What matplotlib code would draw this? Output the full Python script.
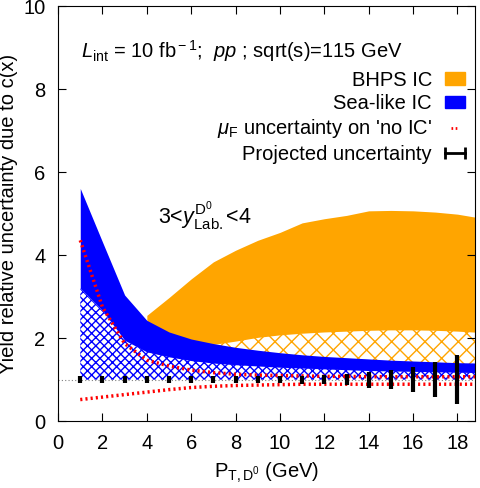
import matplotlib
matplotlib.use("Agg")
import matplotlib.pyplot as plt
from matplotlib.patches import Patch
from matplotlib.lines import Line2D
from matplotlib.legend_handler import HandlerLine2D

plt.rcParams['font.family'] = ['Liberation Sans', 'DejaVu Sans']
plt.rcParams['mathtext.fontset'] = 'custom'
plt.rcParams['mathtext.rm'] = 'Liberation Sans'
plt.rcParams['mathtext.it'] = 'Liberation Sans:italic'
plt.rcParams['mathtext.bf'] = 'Liberation Sans:bold'
plt.rcParams['hatch.linewidth'] = 1.0

# data
pt = [1, 2, 3, 4, 5, 6, 7, 8, 9, 10, 11, 12, 13, 14, 15, 16, 17, 18, 19]
sea_hi = [5.61, 4.32, 3.04, 2.43, 2.15, 1.98, 1.87, 1.78, 1.71, 1.65,
          1.60, 1.56, 1.53, 1.50, 1.47, 1.45, 1.43, 1.41, 1.40]
sea_lo = [3.20, 2.67, 1.95, 1.67, 1.55, 1.46, 1.40, 1.36, 1.33, 1.30,
          1.28, 1.26, 1.24, 1.22, 1.21, 1.20, 1.19, 1.18, 1.17]

pt_b = [4, 5, 6, 7, 8, 9, 10, 11, 12, 13, 14, 15, 16, 17, 18, 19]
bhps_hi = [2.55, 2.98, 3.43, 3.84, 4.12, 4.36, 4.55, 4.78, 4.88, 4.96,
           5.07, 5.08, 5.07, 5.04, 4.99, 4.90]
bhps_lo = [1.50, 1.65, 1.76, 1.85, 1.93, 2.02, 2.08, 2.12, 2.15, 2.17,
           2.19, 2.20, 2.20, 2.19, 2.17, 2.14]

muf_hi = [4.36, 2.75, 1.87, 1.47, 1.33, 1.23, 1.17, 1.13, 1.11, 1.10,
          1.09, 1.08, 1.08, 1.07, 1.07, 1.07, 1.07, 1.07, 1.07]
muf_lo = [0.52, 0.58, 0.64, 0.70, 0.76, 0.81, 0.84, 0.86, 0.87, 0.88,
          0.89, 0.89, 0.89, 0.89, 0.89, 0.89, 0.89, 0.89, 0.89]

pt_err = [1, 2, 3, 4, 5, 6, 7, 8, 9, 10, 11, 12, 13, 14, 15, 16, 17, 18]
err = [0.08, 0.08, 0.08, 0.08, 0.08, 0.08, 0.08, 0.08, 0.08, 0.09,
       0.10, 0.11, 0.14, 0.19, 0.23, 0.30, 0.42, 0.59]

orange = '#ffa500'
blue = '#0000ff'
fs = 14.5

fig = plt.figure(figsize=(4.8, 4.88), dpi=100)
ax = fig.add_axes([0.121, 0.137, 0.869, 0.850])

# BHPS band (behind)
ax.fill_between(pt_b, 1.0, bhps_lo, facecolor='white', edgecolor=orange,
                hatch='xx', linewidth=0)
ax.fill_between(pt_b, bhps_lo, bhps_hi, color=orange, linewidth=0)

# sea-like band
ax.fill_between(pt, 1.0, sea_lo, facecolor='white', edgecolor=blue,
                hatch='xxxx', linewidth=0)
ax.fill_between(pt, sea_lo, sea_hi, color=blue, linewidth=0)

ax.axhline(1.0, color='gray', lw=0.8, ls=(0, (1, 2)))

ax.plot(pt, muf_hi, color='red', lw=2.5, ls=(0, (0.6, 0.9)))
ax.plot(pt, muf_lo, color='red', lw=2.5, ls=(0, (0.6, 0.9)))

ax.errorbar(pt_err, [1.0] * len(pt_err), yerr=err, fmt='none',
            ecolor='black', elinewidth=3, capsize=0)

ax.set_xlim(0, 18.8)
ax.set_ylim(0, 10)
ax.set_xticks(range(0, 19, 2))
ax.set_yticks(range(0, 11, 2))
ax.tick_params(direction='in', top=True, right=True, labelsize=fs,
               length=6, pad=9)
ax.set_xlabel(r'P$_{\rm T,D^0}$ (GeV)', fontsize=fs, labelpad=6)
ax.set_ylabel('Yield relative uncertainty due to c(x)', fontsize=fs,
              labelpad=4)

ax.text(0.054, 0.877, r'$L_{\rm int}$ = 10 fb$^{\rm -1}$;  $pp$ ; sqrt(s)=115 GeV',
        transform=ax.transAxes, fontsize=fs, va='baseline')
ax.text(6.6, 4.77, r'3<$y^{\rm D^0}_{\rm Lab.}$<4', fontsize=15.5,
        ha='center', va='baseline')

err_handle = Line2D([], [], color='black', lw=2, marker='|', markersize=8,
                    markeredgewidth=2)
handles = [Patch(color=orange),
           Patch(color=blue),
           Line2D([], [], color='red', lw=2, ls=(0, (0.6, 0.9))),
           err_handle]
labels = ['BHPS IC', 'Sea-like IC', r"$\mu_{\rm F}$ uncertainty on 'no IC'",
          'Projected uncertainty']
ax.legend(handles, labels, loc='upper right', bbox_to_anchor=(0.976, 0.845),
          frameon=False, markerfirst=False, fontsize=fs, numpoints=2,
          handlelength=1.0, handleheight=0.6, handletextpad=0.65,
          labelspacing=0.22, borderpad=0, borderaxespad=0,
          handler_map={err_handle: HandlerLine2D(marker_pad=0)})

fig.savefig('out.png', dpi=100)
